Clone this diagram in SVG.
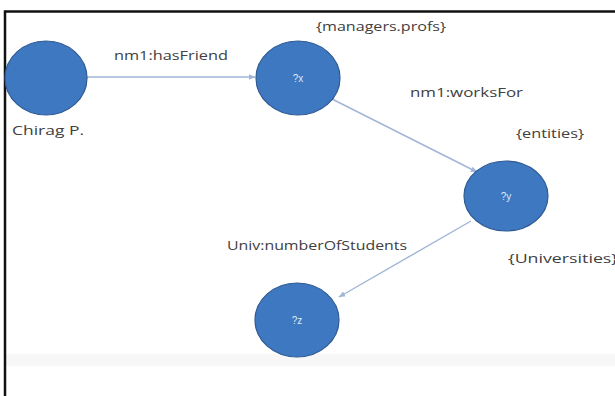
<svg xmlns="http://www.w3.org/2000/svg" width="615" height="396" viewBox="0 0 615 396">
<defs>
<style>
.node{fill:#3e78c0;stroke:#2f5a94;stroke-width:1.2}
.in{font-family:"Liberation Sans",Arial,sans-serif;font-size:10px;fill:#dfe9f7;text-anchor:middle}
.lbl{font-family:"Open Sans","Liberation Sans",sans-serif;font-size:13.5px;fill:#404040}
.edge{stroke:#9fb6d6;stroke-width:1.4;fill:none}
</style>
<marker id="ah" viewBox="0 0 10 10" refX="9" refY="5" markerWidth="7" markerHeight="7" orient="auto" markerUnits="userSpaceOnUse">
<path d="M0,1 L10,5 L0,9 Z" fill="#9fb6d6"/>
</marker>
</defs>
<rect x="0" y="0" width="615" height="396" fill="#ffffff"/>
<rect x="5" y="354" width="610" height="12" fill="#f7f7f7"/>
<path d="M5,396 L5,11.5 L615,11.5" fill="none" stroke="#111" stroke-width="2.5"/>
<g id="connectors">
<line class="edge" x1="87" y1="77" x2="255" y2="77" marker-end="url(#ah)"/>
<line class="edge" x1="332" y1="99" x2="477" y2="172" marker-end="url(#ah)"/>
<line class="edge" x1="471" y1="221" x2="339" y2="297" marker-end="url(#ah)"/>
</g>
<g id="n-chirag">
<ellipse class="node" cx="46" cy="78" rx="41" ry="37"/>
<text class="lbl" x="12" y="135" textLength="72" lengthAdjust="spacingAndGlyphs">Chirag P.</text>
</g>
<g id="n-x">
<ellipse class="node" cx="298" cy="78" rx="42" ry="37"/>
<text class="in" x="298" y="82">?x</text>
<text class="lbl" x="316" y="31" textLength="130" lengthAdjust="spacingAndGlyphs">{managers.profs}</text>
</g>
<g id="n-y">
<ellipse class="node" cx="506" cy="196" rx="42" ry="35"/>
<text class="in" x="506" y="200">?y</text>
<text class="lbl" x="516" y="138" textLength="68" lengthAdjust="spacingAndGlyphs">{entities}</text>
<text class="lbl" x="508" y="263" textLength="110" lengthAdjust="spacingAndGlyphs">{Universities}</text>
</g>
<g id="n-z">
<ellipse class="node" cx="297" cy="320" rx="42" ry="37"/>
<text class="in" x="297" y="324">?z</text>
</g>
<g id="edge-labels">
<text class="lbl" x="114" y="60" textLength="114" lengthAdjust="spacingAndGlyphs">nm1:hasFriend</text>
<text class="lbl" x="410" y="97" textLength="113" lengthAdjust="spacingAndGlyphs">nm1:worksFor</text>
<text class="lbl" x="227" y="250" textLength="180" lengthAdjust="spacingAndGlyphs">Univ:numberOfStudents</text>
</g>
</svg>
